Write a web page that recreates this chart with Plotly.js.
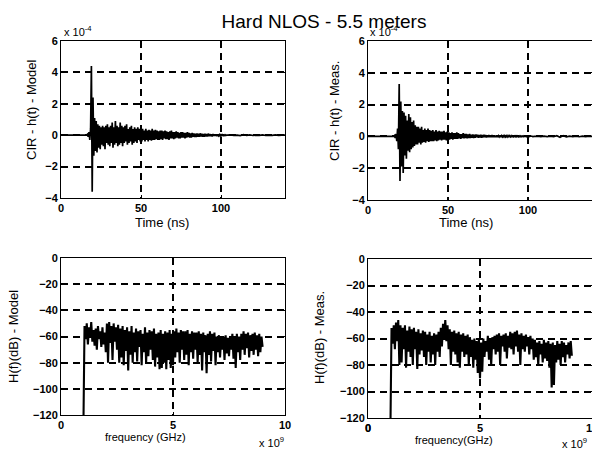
<!DOCTYPE html>
<html><head><meta charset="utf-8">
<script src="https://cdn.plot.ly/plotly-3.0.1.min.js"></script>
<style>html,body{margin:0;padding:0;background:#fff}#chart{width:592px;height:457px}</style>
</head><body><div id="chart"></div>
<script>
// ---- Data (CIR amplitudes in units of 1e-4, time in ns) ----
const cirStart = 16, cirStep = 0.5;
const cirModel = [
  0.0, 0.05, -0.1, 0.2, -0.3, 0.4, 4.4, -3.6, 2.4, -1.3,
  1.1, -1.0, 0.9, -1.1, 0.7, -0.8, 0.6, -0.9, 0.5, -0.6,
  0.6, -0.7, 0.5, -0.9, 0.6, -0.5, 0.7, -0.6, 0.5, -0.7,
  0.6, -0.5, 0.8, -0.8, 0.5, -0.6, 0.9, -0.5, 0.6, -0.7,
  0.5, -0.6, 0.8, -0.5, 0.6, -0.7, 0.5, -0.5, 0.6, -0.4,
  0.7, -0.6, 0.4, -0.5, 0.5, -0.4, 0.6, -0.6, 0.4, -0.5,
  0.5, -0.4, 0.4, -0.5, 0.5, -0.3, 0.4, -0.4, 0.5, -0.4,
  0.4, -0.3, 0.3, -0.4, 0.4, -0.3, 0.3, -0.4, 0.35, -0.3,
  0.3, -0.35, 0.4, -0.3, 0.3, -0.3, 0.35, -0.25, 0.3, -0.3,
  0.25, -0.3, 0.3, -0.25, 0.3, -0.3, 0.25, -0.2, 0.3, -0.25,
  0.25, -0.25, 0.2, -0.3, 0.25, -0.2, 0.3, -0.2, 0.2, -0.25,
  0.2, -0.2, 0.25, -0.15, 0.2, -0.2, 0.15, -0.2, 0.2, -0.15,
  0.2, -0.15, 0.15, -0.2, 0.15, -0.15, 0.2, -0.12, 0.15, -0.15,
  0.12, -0.15, 0.15, -0.1, 0.12, -0.12, 0.1, -0.12, 0.12, -0.1,
  0.1, -0.1, 0.12, -0.08, 0.1, -0.1, 0.08, -0.1, 0.1, -0.08,
  0.08, -0.08, 0.1, -0.06, 0.08, -0.07, 0.06, -0.08, 0.07, -0.05,
  0.06, -0.05, 0.05, -0.06, 0.05, -0.04, 0.04, -0.05, 0.03, -0.03,
  0.03, -0.02, 0.02, -0.03, 0.02, -0.01, 0.01
];
const cirMeas = [
  0.0, 0.05, -0.1, 0.15, -0.3, 0.5, -0.8, 3.3, -2.8, 2.2,
  -1.9, 1.6, -2.3, 1.5, -1.2, 1.3, -1.4, 1.0, -0.9, 1.4,
  -1.0, 1.2, -0.8, 0.9, -0.7, 1.0, -0.6, 0.7, -0.5, 0.6,
  -0.5, 0.6, -0.4, 0.5, -0.5, 0.6, -0.4, 0.4, -0.35, 0.5,
  -0.4, 0.4, -0.3, 0.5, -0.35, 0.4, -0.3, 0.35, -0.3, 0.4,
  -0.3, 0.3, -0.25, 0.4, -0.3, 0.3, -0.25, 0.35, -0.2, 0.3,
  -0.25, 0.3, -0.2, 0.35, -0.2, 0.25, -0.25, 0.3, -0.3, 0.25,
  -0.2, 0.2, -0.15, 0.25, -0.2, 0.2, -0.15, 0.2, -0.15, 0.25,
  -0.15, 0.2, -0.12, 0.15, -0.15, 0.15, -0.1, 0.2, -0.12, 0.15,
  -0.1, 0.15, -0.12, 0.12, -0.1, 0.15, -0.1, 0.1, -0.08, 0.12,
  -0.1, 0.1, -0.08, 0.12, -0.06, 0.1, -0.08, 0.08, -0.06, 0.1,
  -0.08, 0.08, -0.06, 0.1, -0.05, 0.08, -0.06, 0.06, -0.05, 0.08,
  -0.05, 0.06, -0.04, 0.08, -0.05, 0.06, -0.04, 0.05, -0.04, 0.06,
  -0.04, 0.05, -0.03, 0.06, -0.04, 0.05, -0.03, 0.04, -0.03, 0.05,
  -0.03, 0.04, -0.03, 0.05, -0.02, 0.04, -0.03, 0.04, -0.02, 0.03,
  -0.02, 0.03, -0.02, 0.04, -0.02, 0.03, -0.02, 0.03, -0.02, 0.03,
  -0.02, 0.02, -0.02, 0.03, -0.01, 0.02, -0.02, 0.02, -0.01, 0.02,
  -0.01, 0.02, -0.01, 0.01, -0.01, 0.01, 0.0
];
const tailStart = 106, tailStep = 2;
const tailModel = [0.02, -0.02, 0.01, -0.02, 0.03, -0.01, 0.02, -0.02, 0.01, -0.01, 0.02, -0.02, 0.01, -0.01, 0.02, -0.01, 0.01, 0.0];
const tailMeas  = [0.01, -0.01, 0.02, -0.01, 0.01, -0.02, 0.04, -0.05, 0.05, -0.03, 0.02, -0.01, 0.01, -0.02, 0.02, -0.01, 0.01, 0.0];

// ---- Data (|H(f)| in dB, frequency in GHz i.e. x 1e9) ----
const freqStart = 1, freqStep = 0.05;
const hfModel = [
  -130, -52, -62, -50, -66, -53, -60, -49, -64, -55,
  -67, -54, -70, -52, -62, -56, -68, -53, -66, -57,
  -72, -50, -80, -49, -65, -52, -78, -50, -64, -53,
  -70, -51, -80, -54, -76, -52, -82, -55, -71, -53,
  -86, -56, -74, -52, -80, -57, -72, -54, -79, -56,
  -68, -55, -82, -58, -72, -53, -80, -57, -75, -55,
  -70, -56, -78, -54, -83, -58, -76, -57, -85, -55,
  -84, -58, -80, -56, -85, -57, -78, -55, -84, -58,
  -82, -56, -76, -54, -72, -57, -80, -55, -70, -56,
  -78, -56, -74, -55, -82, -58, -72, -56, -77, -57,
  -70, -57, -80, -56, -74, -58, -86, -57, -72, -59,
  -88, -58, -74, -56, -79, -58, -71, -57, -82, -60,
  -72, -59, -76, -61, -70, -60, -78, -59, -73, -61,
  -75, -60, -70, -58, -77, -61, -84, -58, -72, -60,
  -78, -58, -70, -56, -74, -58, -69, -57, -76, -59,
  -71, -58, -74, -57, -70, -59, -75, -58, -72, -60,
  -68
];
const hfMeas = [
  -130, -52, -64, -50, -68, -48, -62, -46, -80, -50,
  -78, -52, -68, -50, -82, -54, -70, -51, -74, -53,
  -80, -52, -68, -55, -83, -53, -72, -56, -69, -54,
  -74, -55, -80, -57, -70, -55, -78, -58, -72, -56,
  -80, -57, -70, -55, -74, -52, -66, -49, -60, -46,
  -62, -50, -68, -53, -80, -55, -70, -54, -72, -56,
  -78, -55, -82, -57, -70, -56, -74, -58, -72, -57,
  -80, -59, -74, -61, -82, -60, -76, -62, -86, -61,
  -90, -63, -85, -60, -74, -62, -70, -58, -76, -60,
  -80, -59, -68, -58, -72, -57, -70, -56, -80, -58,
  -66, -57, -70, -56, -75, -58, -67, -55, -68, -56,
  -72, -55, -66, -54, -70, -57, -80, -56, -68, -58,
  -70, -57, -66, -59, -72, -58, -68, -60, -76, -61,
  -74, -63, -80, -62, -72, -64, -78, -61, -75, -63,
  -77, -62, -82, -64, -97, -63, -95, -65, -78, -62,
  -76, -64, -80, -62, -74, -63, -78, -65, -72, -63,
  -75, -62, -73
];

// ---- Tick labels / text ----
const timeTicks = [0, 50, 100];
const cirTicks = [-4, -2, 0, 2, 4, 6];
const freqTicks = [0, 5, 10];
const dbTicks = [-120, -100, -80, -60, -40, -20, 0];
const chartTitle = 'Hard NLOS - 5.5 meters';
const yTitles = ['CIR - h(t) - Model', 'CIR - h(t) - Meas.', 'H(f)(dB) - Model', 'H(f)(dB) - Meas.'];
const xTitles = ['Time (ns)', 'Time (ns)', 'frequency (GHz)', 'frequency(GHz)'];

// ---- Build series ----
function cirSeries(main, tail) {
  const x = [0], y = [0];
  main.forEach((v, i) => { x.push(cirStart + i * cirStep); y.push(v); });
  tail.forEach((v, i) => { x.push(tailStart + i * tailStep); y.push(v); });
  return {x, y};
}
function freqSeries(vals) {
  return {x: vals.map((v, i) => freqStart + i * freqStep), y: vals.slice()};
}
const s1 = cirSeries(cirModel, tailModel);
const s2 = cirSeries(cirMeas, tailMeas);
const s3 = freqSeries(hfModel);
const s4 = freqSeries(hfMeas);

const cirLine = {color: 'black', width: 1.7};
const hfLine = {color: 'black', width: 2.1};
const traces = [
  {x: s1.x, y: s1.y, xaxis: 'x', yaxis: 'y', type: 'scatter', mode: 'lines', line: cirLine, hoverinfo: 'skip'},
  {x: s2.x, y: s2.y, xaxis: 'x2', yaxis: 'y2', type: 'scatter', mode: 'lines', line: cirLine, hoverinfo: 'skip'},
  {x: s3.x, y: s3.y, xaxis: 'x3', yaxis: 'y3', type: 'scatter', mode: 'lines', line: hfLine, hoverinfo: 'skip'},
  {x: s4.x, y: s4.y, xaxis: 'x4', yaxis: 'y4', type: 'scatter', mode: 'lines', line: hfLine, hoverinfo: 'skip'}
];

const FONT = 'Liberation Sans, Arial, sans-serif';
const TICKFONT = {family: FONT, size: 11, color: 'black', weight: 'bold'};
function ax(extra) {
  return Object.assign({
    showline: true, linecolor: 'black', linewidth: 1, mirror: 'ticks',
    ticks: 'inside', ticklen: 3, tickcolor: 'black',
    showgrid: true, gridcolor: 'black', gridwidth: 2, griddash: '7px,5px',
    zeroline: false, automargin: false, fixedrange: true,
    ticklabeloverflow: 'allow',
    tickfont: TICKFONT
  }, extra);
}
const W = 592, H = 457;
const px = (a, b) => [a / W, b / W];
const py = (top, bottom) => [1 - bottom / H, 1 - top / H];

// axis-title annotations (positions)
function ytitle(text, cx, cy, size) {
  return {text, xref: 'paper', yref: 'paper', x: cx / W, y: 1 - cy / H, xanchor: 'center', yanchor: 'middle',
          textangle: -90, showarrow: false, font: {family: FONT, size: size, color: 'black'}};
}
function xtitle(text, cx, cy, size) {
  return {text, xref: 'paper', yref: 'paper', x: cx / W, y: 1 - cy / H, xanchor: 'center', yanchor: 'middle',
          showarrow: false, font: {family: FONT, size: size, color: 'black'}};
}
function expo(text, lx, cy) {
  return {text, xref: 'paper', yref: 'paper', x: lx / W, y: 1 - cy / H, xanchor: 'left', yanchor: 'middle',
          showarrow: false, font: {family: FONT, size: 11, color: 'black'}};
}

const layout = {
  width: W, height: H,
  margin: {l: 0, r: 0, t: 0, b: 0},
  paper_bgcolor: 'white', plot_bgcolor: 'white',
  showlegend: false,
  font: {family: FONT, color: 'black'},
  title: {text: chartTitle, x: 324 / W, xanchor: 'center', y: 1 - 21 / H, yanchor: 'middle',
          font: {family: FONT, size: 19, color: 'black'}},
  xaxis:  ax({domain: px(61, 285),  anchor: 'y',  range: [-0.001, 140], tickvals: timeTicks}),
  yaxis:  ax({domain: py(41, 198),  anchor: 'x',  range: [-4, 6], tickvals: cirTicks}),
  xaxis2: ax({domain: px(368, 592), anchor: 'y2', range: [-0.001, 140], tickvals: timeTicks}),
  yaxis2: ax({domain: py(41, 200),  anchor: 'x2', range: [-4, 6], tickvals: cirTicks}),
  xaxis3: ax({domain: px(61, 285),  anchor: 'y3', range: [-0.0001, 10], tickvals: freqTicks}),
  yaxis3: ax({domain: py(258, 415), anchor: 'x3', range: [-120, 0], tickvals: dbTicks}),
  xaxis4: ax({domain: px(368, 592), anchor: 'y4', range: [-0.0001, 10], tickvals: freqTicks}),
  yaxis4: ax({domain: py(259, 418), anchor: 'x4', range: [-120, 0], tickvals: dbTicks}),
  annotations: [
    ytitle(yTitles[0], 31, 110, 13),
    ytitle(yTitles[1], 334, 111, 13),
    ytitle(yTitles[2], 13, 337, 13),
    ytitle(yTitles[3], 319, 338, 13),
    xtitle(xTitles[0], 162, 222, 13),
    xtitle(xTitles[1], 466, 222, 13),
    xtitle(xTitles[2], 145, 437, 11),
    xtitle(xTitles[3], 454, 440, 11),
    expo('x 10<sup>-4</sup>', 62, 31),
    expo('x 10<sup>-4</sup>', 368, 31),
    expo('x 10<sup>9</sup>', 257, 442),
    expo('x 10<sup>9</sup>', 560, 443),
    // first frequency tick label of the lower-right panel (the axis hides it at the corner)
    {text: String(freqTicks[0]), xref: 'paper', x: 368 / W, yref: 'paper', y: 1 - 428 / H,
     xanchor: 'center', yanchor: 'middle', showarrow: false, font: TICKFONT}
  ]
};

Plotly.newPlot('chart', traces, layout, {staticPlot: true, displayModeBar: false});
</script>
</body></html>
